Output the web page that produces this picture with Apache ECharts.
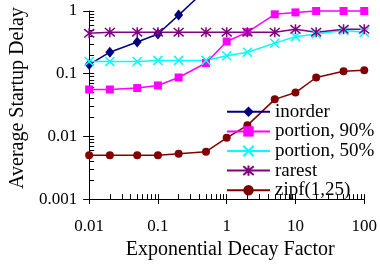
<!DOCTYPE html>
<html>
<head>
<meta charset="utf-8">
<script src="https://cdn.jsdelivr.net/npm/echarts@6.0.0/dist/echarts.min.js"></script>
<style>
  html, body { margin: 0; padding: 0; background: #fff; }
  #main { width: 380px; height: 265px; }
</style>
</head>
<body>
<div id="main"></div>
<script>
// x values (exponential decay factor)
var decayFactors = [0.01, 0.02, 0.05, 0.1, 0.2, 0.5, 1, 2, 5, 10, 20, 50, 100];

// average startup delay per scheme
var inorder   = [0.14, 0.22, 0.32, 0.43, 0.86, 2.2];
var portion90 = [0.056, 0.056, 0.059, 0.065, 0.087, 0.148, 0.326, 0.46, 0.886, 0.95, 1.0, 1.0, 1.0];
var portion50 = [0.157, 0.157, 0.157, 0.163, 0.163, 0.163, 0.193, 0.22, 0.307, 0.39, 0.43, 0.487, 0.46];
var rarest    = [0.44, 0.46, 0.46, 0.46, 0.46, 0.46, 0.46, 0.46, 0.46, 0.51, 0.46, 0.51, 0.51];
var zipf      = [0.005, 0.005, 0.005, 0.005, 0.0053, 0.0057, 0.0095, 0.015, 0.039, 0.05, 0.087, 0.109, 0.113];

var seriesNames = ['inorder', 'portion, 90%', 'portion, 50%', 'rarest', 'zipf(1,25)'];

var FONT = 'Liberation Serif';

// log-axis tick positions 1..9 per decade
function logTicks(lo, hi) {
  var t = [];
  for (var d = lo; d < hi * 0.99; d *= 10) {
    for (var k = 1; k <= 9; k++) t.push(+(d * k).toPrecision(2));
  }
  t.push(hi);
  return t;
}

function pairs(ys) {
  return ys.map(function (y, i) { return [decayFactors[i], y]; });
}

var crossPath = 'path://M0,0L10,10M10,0L0,10';
var starPath = 'path://M0,1L10,11M10,1L0,11M5,0L5,12';

function mkSeries(name, ys, color, symbol, size, stroke) {
  return {
    name: name,
    type: 'line',
    data: pairs(ys),
    clip: false,
    symbol: symbol,
    symbolSize: size,
    showSymbol: true,
    lineStyle: { color: color, width: 1.5 },
    itemStyle: { color: color, borderColor: color, borderWidth: stroke ? 1.5 : 0, opacity: 1 },
    emphasis: { disabled: true }
  };
}

var myChart = echarts.init(document.getElementById('main'), null, { renderer: 'canvas' });

var option = {
  animation: false,
  backgroundColor: '#fff',
  grid: { left: 85, right: 14, top: 11, bottom: 65 },
  legend: {
    orient: 'vertical',
    left: 226,
    top: 102,
    padding: 0,
    itemWidth: 43,
    itemHeight: 13,
    itemGap: 0,
    data: seriesNames,
    textStyle: { fontFamily: FONT, fontSize: 19, color: '#000', lineHeight: 19.6 }
  },
  xAxis: [{
    type: 'log',
    logBase: 10,
    min: 0.01,
    max: 100,
    position: 'bottom',
    name: 'Exponential Decay Factor',
    nameLocation: 'middle',
    nameGap: 38,
    nameTextStyle: { fontFamily: FONT, fontSize: 20, color: '#000', padding: [0, 0, 0, 7] },
    axisLine: { lineStyle: { color: '#000', width: 1 } },
    axisTick: { inside: false, length: 5, lineStyle: { color: '#000' } },
    axisLabel: { fontFamily: FONT, fontSize: 17, color: '#000', margin: 19 },
    splitLine: { show: false }
  }, {
    type: 'log',
    logBase: 10,
    min: 0.01,
    max: 100,
    position: 'bottom',
    axisLine: { show: false },
    axisTick: { inside: true, length: 5, lineStyle: { color: '#000' }, customValues: logTicks(0.01, 100) },
    axisLabel: { show: false },
    splitLine: { show: false }
  }],
  yAxis: [{
    type: 'log',
    logBase: 10,
    min: 0.001,
    max: 1,
    position: 'left',
    name: 'Average Startup Delay',
    nameLocation: 'middle',
    nameGap: 52,
    nameTextStyle: { fontFamily: FONT, fontSize: 20, color: '#000', padding: [0, 0, 0, 14] },
    axisLine: { lineStyle: { color: '#000', width: 1 } },
    axisTick: { inside: false, length: 6, lineStyle: { color: '#000' } },
    axisLabel: { fontFamily: FONT, fontSize: 17, color: '#000', margin: 12 },
    splitLine: { show: false }
  }, {
    type: 'log',
    logBase: 10,
    min: 0.001,
    max: 1,
    position: 'left',
    axisLine: { show: false },
    axisTick: { inside: true, length: 5, lineStyle: { color: '#000' }, customValues: logTicks(0.001, 1) },
    axisLabel: { show: false },
    splitLine: { show: false }
  }],
  series: [
    mkSeries(seriesNames[0], inorder,   '#000080', 'diamond', [9, 11], false),
    mkSeries(seriesNames[1], portion90, '#ff00ff', 'rect', 8, false),
    mkSeries(seriesNames[2], portion50, '#00ffff', crossPath, 9, true),
    mkSeries(seriesNames[3], rarest,    '#800080', starPath, 10, true),
    mkSeries(seriesNames[4], zipf,      '#800000', 'circle', 8, false)
  ]
};

myChart.setOption(option);
window.onresize = myChart.resize;
</script>
</body>
</html>
